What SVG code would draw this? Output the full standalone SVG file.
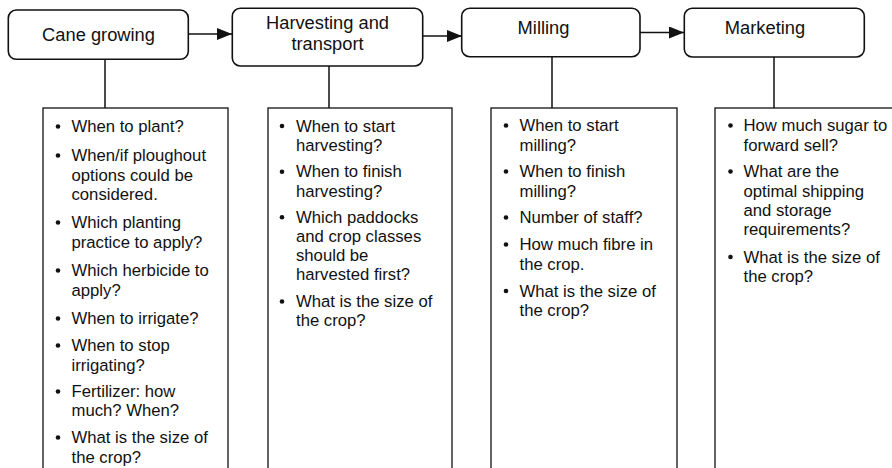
<svg xmlns="http://www.w3.org/2000/svg" width="892" height="468" viewBox="0 0 892 468">
<style>
.hdr{fill:#fff;stroke:#111;stroke-width:1.6}
.lst{fill:#fff;stroke:#111;stroke-width:1.3}
.conn{stroke:#111;stroke-width:1.5;fill:none}
.ht{font-family:"Liberation Sans",Arial,sans-serif;font-size:18.3px;fill:#111;text-anchor:middle}
.bt{font-family:"Liberation Sans",Arial,sans-serif;font-size:16.7px;fill:#111}
.dot{fill:#111}
</style>
<defs>
<marker id="ah" markerWidth="15" markerHeight="12" refX="15" refY="6" orient="auto" markerUnits="userSpaceOnUse">
<path d="M0,0 L15,6 L0,12 Z" fill="#111"/>
</marker>
</defs>
<rect width="892" height="468" fill="#fff"/>

<g id="connectors">
<line class="conn" x1="188" y1="34" x2="232" y2="34" marker-end="url(#ah)"/>
<line class="conn" x1="423" y1="36" x2="462" y2="36" marker-end="url(#ah)"/>
<line class="conn" x1="640" y1="32.5" x2="684" y2="32.5" marker-end="url(#ah)"/>
<line class="conn" x1="105" y1="59" x2="105" y2="108"/>
<line class="conn" x1="329" y1="66" x2="329" y2="108"/>
<line class="conn" x1="552" y1="57" x2="552" y2="108"/>
<line class="conn" x1="774" y1="57" x2="774" y2="108"/>
</g>

<g id="cane-growing">
<rect class="hdr" x="8.3" y="10" width="180" height="49.3" rx="8"/>
<text class="ht" x="98.5" y="41">Cane growing</text>
</g>
<g id="harvesting">
<rect class="hdr" x="232.3" y="8.3" width="190.4" height="57.7" rx="8"/>
<text class="ht" x="327.5" y="28.5">Harvesting and</text>
<text class="ht" x="327.5" y="49.5">transport</text>
</g>
<g id="milling">
<rect class="hdr" x="461.7" y="8.3" width="178.3" height="48.4" rx="8"/>
<text class="ht" x="543.5" y="33.5">Milling</text>
</g>
<g id="marketing">
<rect class="hdr" x="684.3" y="8.3" width="180" height="48.7" rx="8"/>
<text class="ht" x="765" y="33.5">Marketing</text>
</g>

<g id="cane-growing-questions">
<rect class="lst" x="43" y="108" width="185" height="380"/>
<circle class="dot" cx="58" cy="126.5" r="2.3"/>
<circle class="dot" cx="58" cy="155.5" r="2.3"/>
<circle class="dot" cx="58" cy="222.5" r="2.3"/>
<circle class="dot" cx="58" cy="270.5" r="2.3"/>
<circle class="dot" cx="58" cy="318.5" r="2.3"/>
<circle class="dot" cx="58" cy="345.5" r="2.3"/>
<circle class="dot" cx="58" cy="391.5" r="2.3"/>
<circle class="dot" cx="58" cy="437.5" r="2.3"/>
<text class="bt" x="71.5" y="132">When to plant?</text>
<text class="bt" x="71.5" y="161">When/if ploughout</text>
<text class="bt" x="71.5" y="181">options could be</text>
<text class="bt" x="71.5" y="200">considered.</text>
<text class="bt" x="71.5" y="228">Which planting</text>
<text class="bt" x="71.5" y="247.5">practice to apply?</text>
<text class="bt" x="71.5" y="276">Which herbicide to</text>
<text class="bt" x="71.5" y="296">apply?</text>
<text class="bt" x="71.5" y="324">When to irrigate?</text>
<text class="bt" x="71.5" y="351">When to stop</text>
<text class="bt" x="71.5" y="370.5">irrigating?</text>
<text class="bt" x="71.5" y="397">Fertilizer: how</text>
<text class="bt" x="71.5" y="416">much? When?</text>
<text class="bt" x="71.5" y="443">What is the size of</text>
<text class="bt" x="71.5" y="462.5">the crop?</text>
</g>

<g id="harvesting-questions">
<rect class="lst" x="268" y="108" width="184" height="380"/>
<circle class="dot" cx="282" cy="126" r="2.3"/>
<circle class="dot" cx="282" cy="171.8" r="2.3"/>
<circle class="dot" cx="282" cy="217.2" r="2.3"/>
<circle class="dot" cx="282" cy="301.5" r="2.3"/>
<text class="bt" x="296" y="131.5">When to start</text>
<text class="bt" x="296" y="150.7">harvesting?</text>
<text class="bt" x="296" y="177.3">When to finish</text>
<text class="bt" x="296" y="196.7">harvesting?</text>
<text class="bt" x="296" y="222.7">Which paddocks</text>
<text class="bt" x="296" y="241.7">and crop classes</text>
<text class="bt" x="296" y="261">should be</text>
<text class="bt" x="296" y="280">harvested first?</text>
<text class="bt" x="296" y="307">What is the size of</text>
<text class="bt" x="296" y="326">the crop?</text>
</g>

<g id="milling-questions">
<rect class="lst" x="491" y="108" width="186" height="380"/>
<circle class="dot" cx="506" cy="125.5" r="2.3"/>
<circle class="dot" cx="506" cy="171.5" r="2.3"/>
<circle class="dot" cx="506" cy="217.5" r="2.3"/>
<circle class="dot" cx="506" cy="244.5" r="2.3"/>
<circle class="dot" cx="506" cy="291" r="2.3"/>
<text class="bt" x="519.5" y="131">When to start</text>
<text class="bt" x="519.5" y="150.5">milling?</text>
<text class="bt" x="519.5" y="177">When to finish</text>
<text class="bt" x="519.5" y="196.5">milling?</text>
<text class="bt" x="519.5" y="223">Number of staff?</text>
<text class="bt" x="519.5" y="250">How much fibre in</text>
<text class="bt" x="519.5" y="269.5">the crop.</text>
<text class="bt" x="519.5" y="296.5">What is the size of</text>
<text class="bt" x="519.5" y="316">the crop?</text>
</g>

<g id="marketing-questions">
<rect class="lst" x="715" y="108" width="200" height="380"/>
<circle class="dot" cx="730.5" cy="125.5" r="2.3"/>
<circle class="dot" cx="730.5" cy="171.5" r="2.3"/>
<circle class="dot" cx="730.5" cy="257" r="2.3"/>
<text class="bt" x="743.5" y="131">How much sugar to</text>
<text class="bt" x="743.5" y="150.5">forward sell?</text>
<text class="bt" x="743.5" y="177">What are the</text>
<text class="bt" x="743.5" y="196.5">optimal shipping</text>
<text class="bt" x="743.5" y="216">and storage</text>
<text class="bt" x="743.5" y="235">requirements?</text>
<text class="bt" x="743.5" y="262.5">What is the size of</text>
<text class="bt" x="743.5" y="282">the crop?</text>
</g>
</svg>
